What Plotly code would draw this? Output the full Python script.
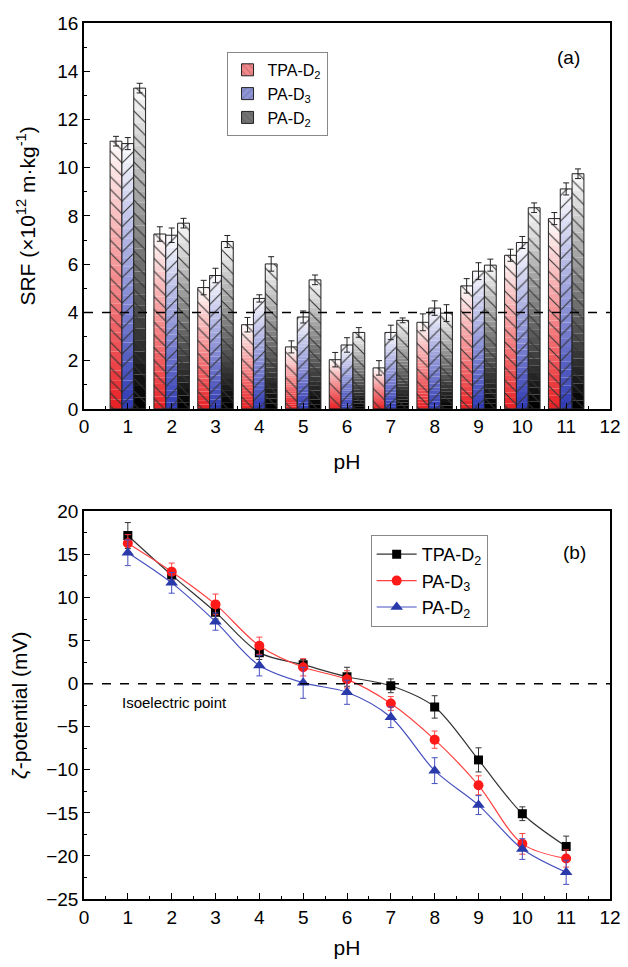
import plotly.graph_objects as go

# ---------------- data ----------------
ph = [1, 2, 3, 4, 5, 6, 7, 8, 9, 10, 11]
series_names = ["TPA-D<sub>2</sub>", "PA-D<sub>3</sub>", "PA-D<sub>2</sub>"]

srf_tpa_d2 = [11.1, 7.25, 5.03, 3.49, 2.57, 2.04, 1.70, 3.59, 5.10, 6.37, 7.89]
srf_pa_d3 = [11.0, 7.20, 5.53, 4.58, 3.81, 2.65, 3.17, 4.18, 5.71, 6.90, 9.12]
srf_pa_d2 = [13.3, 7.70, 6.94, 6.01, 5.35, 3.17, 3.67, 3.97, 5.96, 8.34, 9.75]
srf_err_tpa_d2 = [0.2, 0.3, 0.3, 0.3, 0.25, 0.3, 0.3, 0.35, 0.3, 0.25, 0.25]
srf_err_pa_d3 = [0.25, 0.3, 0.3, 0.15, 0.25, 0.3, 0.3, 0.3, 0.35, 0.25, 0.25]
srf_err_pa_d2 = [0.2, 0.2, 0.25, 0.3, 0.2, 0.2, 0.1, 0.35, 0.25, 0.2, 0.2]

zeta_tpa_d2 = [17.2, 12.6, 8.3, 3.6, 2.2, 0.8, -0.25, -2.7, -8.85, -15.1, -18.9]
zeta_pa_d3 = [16.3, 13.0, 9.2, 4.4, 1.9, 0.5, -2.3, -6.5, -11.8, -18.6, -20.3]
zeta_pa_d2 = [15.2, 11.7, 7.2, 2.1, 0.1, -1.0, -3.9, -10.1, -14.1, -19.2, -21.9]
zeta_err_tpa_d2 = [1.5, 0.8, 0.8, 0.8, 0.6, 1.1, 0.8, 1.3, 1.4, 0.8, 1.2]
zeta_err_pa_d3 = [1.0, 1.0, 1.2, 1.0, 1.0, 1.0, 0.8, 1.0, 1.1, 1.2, 1.0]
zeta_err_pa_d2 = [1.5, 1.2, 1.0, 1.2, 1.8, 1.4, 1.2, 1.5, 1.1, 1.2, 1.4]

srf_threshold = 4
iso_line = 0

# ---------------- style ----------------
base_colors = [(232, 35, 40), (50, 60, 180), (0, 0, 0)]
patterns = ["\\", "/", "\\"]
bar_width = 0.27
n_seg = 28
FONT = "Liberation Sans, Arial, sans-serif"


def lerp(c, t):
    # t=0 -> base colour, t=1 -> white
    r, g, b = (int(round(ci + (255 - ci) * t)) for ci in c)
    return f"rgb({r},{g},{b})"


fig = go.Figure()

srf_vals = [srf_tpa_d2, srf_pa_d3, srf_pa_d2]
srf_errs = [srf_err_tpa_d2, srf_err_pa_d3, srf_err_pa_d2]

for s, (vals, errs) in enumerate(zip(srf_vals, srf_errs)):
    off = -1.5 * bar_width + s * bar_width
    # gradient segments
    for k in range(n_seg):
        t = k / (n_seg - 1) * 0.97
        fig.add_trace(go.Bar(
            x=ph, y=[v / n_seg for v in vals], base=[v * k / n_seg for v in vals],
            width=bar_width, offset=off,
            marker=dict(color=lerp(base_colors[s], t), line=dict(width=0)),
            showlegend=False, hoverinfo="skip", xaxis="x", yaxis="y",
        ))
    # hatch + outline + error bars
    fig.add_trace(go.Bar(
        x=ph, y=vals, width=bar_width, offset=off,
        marker=dict(color="rgba(0,0,0,0)",
                    line=dict(color="#222", width=1),
                    pattern=dict(shape=patterns[s], fgcolor="#333", size=9,
                                 solidity=0.12, fillmode="replace")),
        error_y=dict(type="data", array=errs, color="#222", thickness=1, width=3),
        showlegend=False, xaxis="x", yaxis="y",
    ))
    # legend entry
    fig.add_trace(go.Bar(
        x=[None], y=[None], name=series_names[s],
        marker=dict(color=lerp(base_colors[s], 0.45),
                    line=dict(color="#222", width=1),
                    pattern=dict(shape=patterns[s], fgcolor="#333", size=6,
                                 solidity=0.15, fillmode="overlay")),
        showlegend=True, legend="legend", xaxis="x", yaxis="y",
    ))

zeta_vals = [zeta_tpa_d2, zeta_pa_d3, zeta_pa_d2]
zeta_errs = [zeta_err_tpa_d2, zeta_err_pa_d3, zeta_err_pa_d2]
line_colors = ["#333333", "#ff4040", "#4650c0"]
marker_colors = ["#000000", "#ff1a1a", "#2a3aaa"]
symbols = ["square", "circle", "triangle-up"]
msizes = [9, 10, 11]
for s in range(3):
    fig.add_trace(go.Scatter(
        x=ph, y=zeta_vals[s], name=series_names[s], mode="lines+markers",
        line=dict(color=line_colors[s], width=1.2, shape="spline", smoothing=0.9),
        marker=dict(color=marker_colors[s], symbol=symbols[s], size=msizes[s]),
        error_y=dict(type="data", array=zeta_errs[s], color=line_colors[s],
                     thickness=1, width=3),
        legend="legend2", xaxis="x2", yaxis="y2",
    ))

axis_common = dict(
    showline=True, linecolor="black", linewidth=1.5, mirror=True,
    ticks="inside", ticklen=6, tickwidth=1.2, tickcolor="black",
    showgrid=False, zeroline=False, automargin=False,
    tickfont=dict(family=FONT, size=19, color="black"),
)
minor_x = dict(dtick=0.5, ticks="inside", ticklen=3, tickcolor="black")

fig.update_layout(
    width=612, height=951,
    margin=dict(l=76, r=10, t=15, b=60),
    paper_bgcolor="white", plot_bgcolor="white",
    barmode="overlay",
    font=dict(family=FONT, color="black"),
    xaxis=dict(domain=[0, 1], range=[0, 12], dtick=1, anchor="y", minor=minor_x,
               ticklabeloverflow="allow",
               title=dict(text="pH", font=dict(size=21), standoff=18),
               **axis_common),
    yaxis=dict(domain=[0.5595, 1], range=[0, 16], dtick=2, anchor="x",
               minor=dict(dtick=1, ticks="inside", ticklen=3, tickcolor="black"),
               title=dict(text="SRF (×10<sup>12</sup> m·kg<sup>-1</sup>)",
                          font=dict(size=21), standoff=16),
               **axis_common),
    xaxis2=dict(domain=[0, 1], range=[0, 12], dtick=1, anchor="y2", minor=minor_x,
                ticklabeloverflow="allow",
                title=dict(text="pH", font=dict(size=21), standoff=28),
                **axis_common),
    yaxis2=dict(domain=[0, 0.4425], range=[-25, 20], dtick=5, anchor="x2",
                minor=dict(dtick=2.5, ticks="inside", ticklen=3, tickcolor="black"),
                title=dict(text="<i>ζ</i>-potential (mV)", font=dict(size=21), standoff=18),
                **axis_common),
    legend=dict(x=0.271, y=0.967, xanchor="left", yanchor="top",
                bordercolor="#888", borderwidth=1, bgcolor="white",
                font=dict(family=FONT, size=16), tracegroupgap=0,
                itemwidth=30),
    legend2=dict(x=0.545, y=0.4155, xanchor="left", yanchor="top",
                 bordercolor="#888", borderwidth=1, bgcolor="white",
                 font=dict(family=FONT, size=18), itemwidth=40),
    shapes=[
        dict(type="line", xref="x", yref="y", x0=0, x1=12, y0=srf_threshold, y1=srf_threshold,
             line=dict(color="black", width=1.5, dash="dash")),
        dict(type="line", xref="x2", yref="y2", x0=0, x1=12, y0=iso_line, y1=iso_line,
             line=dict(color="black", width=1.5, dash="dash")),
    ],
    annotations=[
        dict(text="(a)", x=11.05, y=14.55, xref="x", yref="y", showarrow=False,
             font=dict(size=19)),
        dict(text="(b)", x=11.2, y=15.2, xref="x2", yref="y2", showarrow=False,
             font=dict(size=19)),
        dict(text="Isoelectric point", x=0.82, y=-2.2, xref="x2", yref="y2",
             xanchor="left", showarrow=False, font=dict(size=15)),
    ],
)

fig.write_html("out.html")
